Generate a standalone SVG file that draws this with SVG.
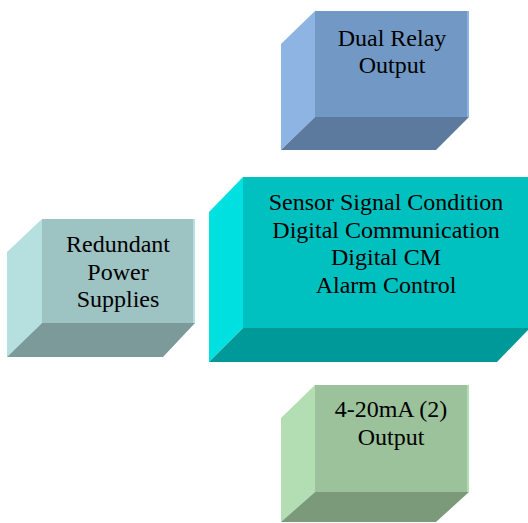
<svg xmlns="http://www.w3.org/2000/svg" width="528" height="523" viewBox="0 0 528 523">
<style>
text{font-family:"Liberation Serif","Times New Roman",serif;font-size:24px;fill:#000;text-anchor:middle}
</style>
<rect width="528" height="523" fill="#fff"/>
<g id="dual-relay">
<polygon points="315,11 281,44 281,150 315,117" fill="#8DB4E2"/>
<rect x="315" y="11" width="154" height="106" fill="#7299C6"/>
<rect x="467" y="11" width="2" height="106" fill="#8DB4E2"/>
<polygon points="315,117 469,117 436,150 281,150" fill="#5B7A9E"/>
<text x="392" y="45.5">Dual Relay</text>
<text x="392" y="73">Output</text>
</g>
<g id="central">
<polygon points="243,177 209,212 209,362 243,328" fill="#00E0E0"/>
<rect x="243" y="177" width="287" height="151" fill="#00C0C0"/>
<polygon points="243,328 530,328 497,362 209,362" fill="#009999"/>
<text x="386" y="210">Sensor Signal Condition</text>
<text x="386" y="237.5">Digital Communication</text>
<text x="386" y="265">Digital CM</text>
<text x="386" y="292.5">Alarm Control</text>
</g>
<g id="power">
<polygon points="42,219 7,252 7,357 42,323" fill="#B6E0E0"/>
<rect x="42" y="219" width="153" height="104" fill="#9DC3C3"/>
<rect x="193" y="219" width="2" height="104" fill="#B6E0E0"/>
<polygon points="42,323 195,323 163,357 7,357" fill="#7C9A9A"/>
<text x="118" y="252">Redundant</text>
<text x="118" y="279.5">Power</text>
<text x="118" y="307">Supplies</text>
</g>
<g id="analog-output">
<polygon points="315,385 281,418 281,522 315,492" fill="#B3DEB3"/>
<rect x="315" y="385" width="154" height="107" fill="#9BC29B"/>
<rect x="467" y="385" width="2" height="107" fill="#B3DEB3"/>
<polygon points="315,492 469,492 436,522 281,522" fill="#7A9A7A"/>
<text x="391" y="417">4-20mA (2)</text>
<text x="391" y="445">Output</text>
</g>
<g id="connectors"/>
</svg>
